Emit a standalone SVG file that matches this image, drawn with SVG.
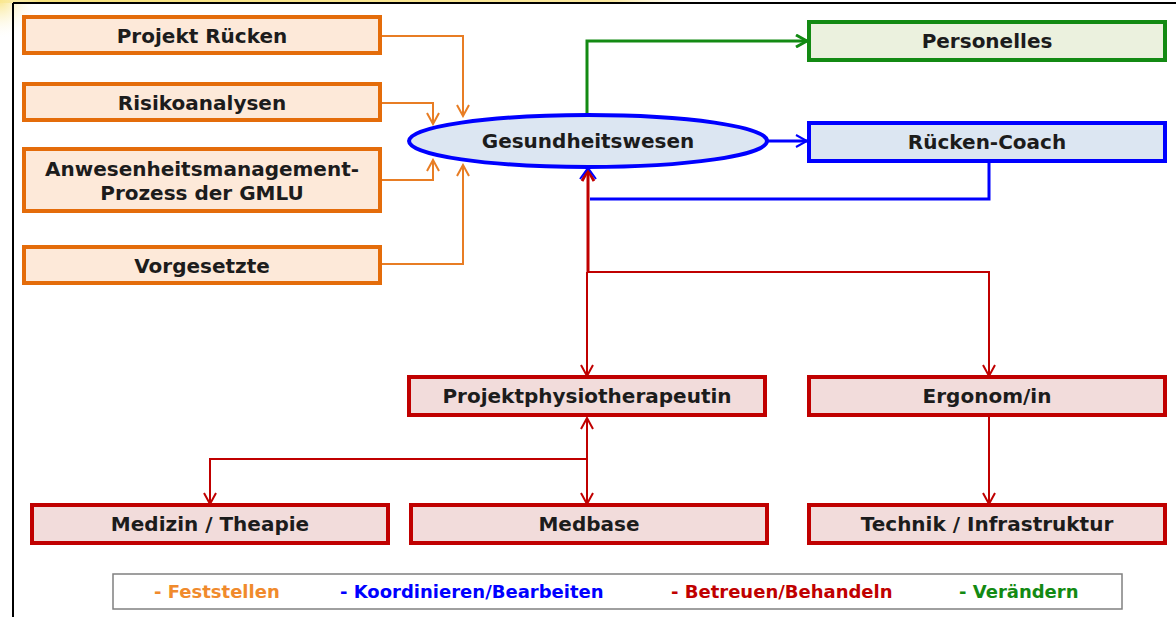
<svg xmlns="http://www.w3.org/2000/svg" width="1176" height="617" viewBox="0 0 1176 617">
<defs>
<linearGradient id="yb" x1="0" y1="0" x2="1" y2="0">
<stop offset="0" stop-color="#f7e27a"/>
<stop offset="0.85" stop-color="#fbe9a0"/>
<stop offset="1" stop-color="#ffffff" stop-opacity="0"/>
</linearGradient>
<radialGradient id="yc" cx="0" cy="0" r="1">
<stop offset="0" stop-color="#f9e68c"/>
<stop offset="1" stop-color="#ffffff" stop-opacity="0"/>
</radialGradient>
<marker id="aO" viewBox="0 0 14 14" refX="12" refY="7" markerWidth="14" markerHeight="14" markerUnits="userSpaceOnUse" orient="auto"><path d="M1,1 L12,7 L1,13" fill="none" stroke="#e87d24" stroke-width="2"/></marker>
<marker id="aG" viewBox="0 0 14 14" refX="12" refY="7" markerWidth="14" markerHeight="14" markerUnits="userSpaceOnUse" orient="auto"><path d="M1,1 L12,7 L1,13" fill="none" stroke="#138a13" stroke-width="3"/></marker>
<marker id="aB" viewBox="0 0 14 14" refX="12" refY="7" markerWidth="14" markerHeight="14" markerUnits="userSpaceOnUse" orient="auto"><path d="M1,1 L12,7 L1,13" fill="none" stroke="#0000ff" stroke-width="2"/></marker>
<marker id="aR" viewBox="0 0 14 14" refX="12" refY="7" markerWidth="14" markerHeight="14" markerUnits="userSpaceOnUse" orient="auto"><path d="M1,1 L12,7 L1,13" fill="none" stroke="#c00000" stroke-width="2"/></marker>
<marker id="aR2" viewBox="0 0 14 14" refX="12" refY="7" markerWidth="14" markerHeight="14" markerUnits="userSpaceOnUse" orient="auto"><path d="M1,1 L12,7 L1,13" fill="none" stroke="#c00000" stroke-width="3"/></marker>
</defs>
<style>
.t{font-family:"DejaVu Sans",Verdana,sans-serif;font-weight:bold;font-size:20px;fill:#1c1c1c;text-anchor:middle}
.lg{font-family:"DejaVu Sans",Verdana,sans-serif;font-weight:bold;font-size:18px;text-anchor:start}
.o{fill:#fde9d9;stroke:#e46c0a;stroke-width:4}
.r{fill:#f2dcdb;stroke:#c00000;stroke-width:4}
.g{fill:#ebf1de;stroke:#138a13;stroke-width:4}
.b{fill:#dce6f2;stroke:#0000ff;stroke-width:4}
.co{fill:none;stroke:#e87d24;stroke-width:2}
.cr{fill:none;stroke:#c00000;stroke-width:2}
.cb{fill:none;stroke:#0000ff;stroke-width:3}
.cg{fill:none;stroke:#138a13;stroke-width:3}
</style>
<rect width="1176" height="617" fill="#ffffff"/>
<rect x="0" y="0" width="720" height="3" fill="url(#yb)"/>
<rect x="0" y="0" width="40" height="40" fill="url(#yc)"/>
<g id="frame" fill="none" stroke="#000" stroke-width="2">
<line x1="13" y1="3" x2="1176" y2="3"/>
<line x1="13" y1="3" x2="13" y2="617"/>
</g>
<g id="connectors">
<path class="co" d="M380,36 H463 V116" marker-end="url(#aO)"/>
<path class="co" d="M380,103 H433 V124" marker-end="url(#aO)"/>
<path class="co" d="M380,180 H433 V160" marker-end="url(#aO)"/>
<path class="co" d="M380,264 H463 V165" marker-end="url(#aO)"/>
<path class="cg" d="M587,115 V41 H807" marker-end="url(#aG)"/>
<path class="cb" d="M767,141 H807" marker-end="url(#aB)"/>
<path class="cb" d="M989,161 V199 H590"/>
<path class="cr" d="M587,272 H989 V376" marker-end="url(#aR)"/>
<path class="cr" d="M587,272 V376" marker-end="url(#aR)"/>
<path fill="none" stroke="#c00000" stroke-width="3" d="M588,272 V170" marker-end="url(#aR2)"/>
<path fill="none" stroke="#0000ff" stroke-width="2" d="M580,179 L588,168 L596,179"/>
<path class="cr" d="M587,459 V418" marker-end="url(#aR)"/>
<path class="cr" d="M587,459 V504" marker-end="url(#aR)"/>
<path class="cr" d="M587,459 H210 V504" marker-end="url(#aR)"/>
<path class="cr" d="M989,415 V504" marker-end="url(#aR)"/>
</g>
<g id="n-projekt"><rect class="o" x="24" y="17" width="356" height="36"/><text class="t" x="202" y="43">Projekt Rücken</text></g>
<g id="n-risiko"><rect class="o" x="24" y="84" width="356" height="36"/><text class="t" x="202" y="110">Risikoanalysen</text></g>
<g id="n-anwesen"><rect class="o" x="24" y="149" width="356" height="62"/><text class="t" x="202" y="176">Anwesenheitsmanagement-</text><text class="t" x="202" y="200">Prozess der GMLU</text></g>
<g id="n-vorg"><rect class="o" x="24" y="247" width="356" height="36"/><text class="t" x="202" y="273">Vorgesetzte</text></g>
<g id="n-gesund"><ellipse class="b" cx="588" cy="141" rx="179" ry="26"/><text class="t" x="588" y="148">Gesundheitswesen</text></g>
<g id="n-pers"><rect class="g" x="809" y="22" width="356" height="38"/><text class="t" x="987" y="48">Personelles</text></g>
<g id="n-coach"><rect class="b" x="809" y="123" width="356" height="38"/><text class="t" x="987" y="149">Rücken-Coach</text></g>
<g id="n-physio"><rect class="r" x="409" y="377" width="356" height="38"/><text class="t" x="587" y="403">Projektphysiotherapeutin</text></g>
<g id="n-ergo"><rect class="r" x="809" y="377" width="356" height="38"/><text class="t" x="987" y="403">Ergonom/in</text></g>
<g id="n-medizin"><rect class="r" x="32" y="505" width="356" height="38"/><text class="t" x="210" y="531">Medizin / Theapie</text></g>
<g id="n-medbase"><rect class="r" x="411" y="505" width="356" height="38"/><text class="t" x="589" y="531">Medbase</text></g>
<g id="n-technik"><rect class="r" x="809" y="505" width="356" height="38"/><text class="t" x="987" y="531">Technik / Infrastruktur</text></g>
<g id="legend">
<rect x="113" y="574" width="1009" height="35" fill="#fff" stroke="#808080" stroke-width="1.5"/>
<text class="lg" x="154" y="598" fill="#f08a2c">- Feststellen</text>
<text class="lg" x="340" y="598" fill="#0000ff">- Koordinieren/Bearbeiten</text>
<text class="lg" x="671" y="598" fill="#c00000">- Betreuen/Behandeln</text>
<text class="lg" x="959" y="598" fill="#138a13">- Verändern</text>
</g>
</svg>
